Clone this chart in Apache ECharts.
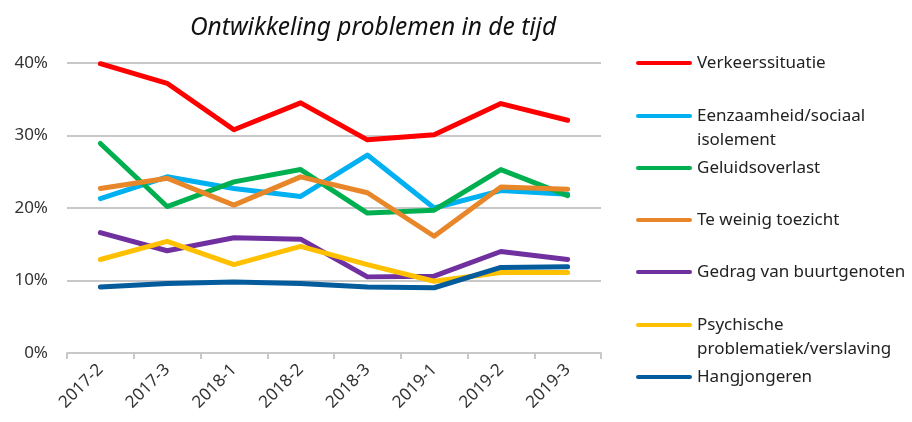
<!DOCTYPE html>
<html>
<head>
<meta charset="utf-8">
<script src="https://cdn.jsdelivr.net/npm/echarts@6/dist/echarts.min.js"></script>
<style>
  html, body { margin: 0; padding: 0; background: #fff; }
  #chart { width: 912px; height: 422px; }
</style>
</head>
<body>
<div id="chart"></div>
<script>
// periodes
var categories = ['2017-2', '2017-3', '2018-1', '2018-2', '2018-3', '2019-1', '2019-2', '2019-3'];

// percentages per probleem
var verkeerssituatie = [39.9, 37.2, 30.8, 34.5, 29.4, 30.1, 34.4, 32.1];
var eenzaamheid = [21.3, 24.3, 22.7, 21.6, 27.3, 20.0, 22.4, 21.9];
var geluidsoverlast = [28.9, 20.2, 23.6, 25.3, 19.3, 19.7, 25.3, 21.7];
var toezicht = [22.7, 24.1, 20.4, 24.3, 22.1, 16.1, 22.9, 22.6];
var buurtgenoten = [16.6, 14.1, 15.9, 15.7, 10.5, 10.6, 14.0, 12.9];
var psychische = [12.9, 15.4, 12.2, 14.7, 12.2, 9.9, 11.1, 11.1];
var hangjongeren = [9.1, 9.6, 9.8, 9.6, 9.1, 9.0, 11.8, 11.9];

var seriesNames = ['Verkeerssituatie', 'Eenzaamheid/sociaal\nisolement', 'Geluidsoverlast',
  'Te weinig toezicht', 'Gedrag van buurtgenoten', 'Psychische\nproblematiek/verslaving', 'Hangjongeren'];
var seriesData = [verkeerssituatie, eenzaamheid, geluidsoverlast, toezicht, buurtgenoten, psychische, hangjongeren];
var colors = ['#FF0000', '#00B0F0', '#00B050', '#E8862A', '#7030A0', '#FFC000', '#045C9C'];

var yTicks = [0, 10, 20, 30, 40];

var font = 'Noto Sans';
var legendTops = [63, 116, 168, 220, 272, 325, 377];

var chart = echarts.init(document.getElementById('chart'));

var series = seriesNames.map(function (name, i) {
  return {
    name: name,
    type: 'line',
    data: seriesData[i],
    showSymbol: false,
    symbol: 'none',
    lineStyle: { width: 5, color: colors[i], cap: 'round', join: 'round' },
    itemStyle: { color: colors[i] }
  };
});

// één legenda per reeks, zodat de posities vrij te kiezen zijn
var legends = seriesNames.map(function (name, i) {
  var twoLines = name.indexOf('\n') >= 0;
  return {
    data: [name],
    left: 636,
    top: legendTops[i] - (twoLines ? 36 : 12),
    padding: 0,
    itemWidth: 56,
    itemHeight: 20,
    itemGap: 0,
    icon: 'path://M2,8 L54,8 A2,2 0 0 1 54,12 L2,12 A2,2 0 0 1 2,8 Z',
    formatter: function (n) { return twoLines ? '\n' + n : n; },
    textStyle: {
      fontFamily: font,
      fontSize: 17,
      color: '#222',
      lineHeight: 24
    },
    selectedMode: false
  };
});

chart.setOption({
  animation: false,
  title: {
    text: 'Ontwikkeling problemen in de tijd',
    left: 368,
    textAlign: 'center',
    top: 11,
    textStyle: { fontFamily: font, fontSize: 24.5, fontStyle: 'italic', fontWeight: 'normal', color: '#111' }
  },
  legend: legends,
  grid: { left: 67, right: 311, top: 63, bottom: 69, containLabel: false },
  xAxis: {
    type: 'category',
    data: categories,
    boundaryGap: true,
    axisLine: { lineStyle: { color: '#C8C8C8', width: 2 } },
    axisTick: { show: true, length: 6, lineStyle: { color: '#C8C8C8', width: 2 } },
    axisLabel: { rotate: 45, fontFamily: font, fontSize: 17, color: '#333', margin: 14 }
  },
  yAxis: {
    type: 'value',
    min: yTicks[0],
    max: yTicks[yTicks.length - 1],
    interval: 10,
    axisLine: { show: false },
    axisTick: { show: false },
    splitLine: { lineStyle: { color: '#C8C8C8', width: 2 } },
    axisLabel: { formatter: '{value}%', fontFamily: font, fontSize: 17, color: '#333', margin: 19 }
  },
  series: series
});
</script>
</body>
</html>
